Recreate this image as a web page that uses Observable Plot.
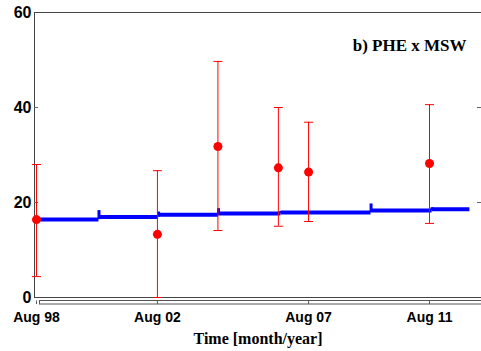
<!DOCTYPE html>
<html><head><meta charset="utf-8">
<script src="https://cdn.jsdelivr.net/npm/d3@7"></script>
<script src="https://cdn.jsdelivr.net/npm/@observablehq/plot@0.6"></script>
<style>html,body{margin:0;padding:0;background:#fff;overflow:hidden}</style>
</head><body><div id="chart"></div>
<script>
// Observations (red dots with error bars)
const obsDates  = ["1998-08-01","2002-08-01","2004-08-01","2006-08-01","2007-08-01","2011-08-01"];
const obsValues = [16.4, 13.3, 31.8, 27.3, 26.4, 28.2];
const obsLow    = [4.4, 0.0, 14.1, 15.0, 16.0, 15.6];
const obsHigh   = [28.0, 26.7, 49.7, 40.0, 36.9, 40.6];

// Model step line (blue)
const segStart = ["1998-08-01","2000-08-25","2002-08-15","2004-08-08","2006-09-01","2009-08-25","2011-09-01"];
const segEnd   = ["2000-08-25","2002-08-15","2004-08-08","2006-09-01","2009-08-25","2011-09-01","2012-12-01"];
const segLevel = [16.4, 16.95, 17.4, 17.7, 17.9, 18.3, 18.6];
const spikeTop = [null, 18.3, 18.0, 18.7, 18.1, 19.7, 18.9];

// Axis ticks
const xTickDates  = ["1998-08-01","2002-08-01","2007-08-01","2011-08-01"];
const xTickLabels = ["Aug 98","Aug 02","Aug 07","Aug 11"];
const yTicks = [0, 20, 40, 60];
const yInnerTicks = [20, 40];

const title = "b) PHE x MSW";
const xLabel = "Time [month/year]";

const W = 481, H = 351, ML = 34, MR = 0, MT = 12, MB = 54;
const D = s => new Date(s + "T00:00:00Z");

const obs = obsDates.map((d, i) => ({date: D(d), v: obsValues[i], lo: obsLow[i], hi: obsHigh[i]}));
const segs = segStart.map((d, i) => ({x1: D(d), x2: D(segEnd[i]), v: segLevel[i]}));
const spikes = segStart.map((d, i) => ({x: D(d), y1: i > 0 ? segLevel[i - 1] : null, y2: spikeTop[i]})).filter(d => d.y2 != null);
const tickMap = new Map(xTickDates.map((d, i) => [+D(d), xTickLabels[i]]));

const capSymbol = {draw(ctx, size) { const r = Math.sqrt(size / Math.PI); ctx.moveTo(-r, 0); ctx.lineTo(r, 0); }};
const xDomain = [D("1998-07-08"), D("2013-04-20")];

const axisBar = (index, scales, values, dims) => {
  const g = d3.create("svg:g");
  const y0 = dims.height - dims.marginBottom;
  g.append("rect")
    .attr("x", dims.marginLeft + 5.5).attr("y", y0 + 3.5)
    .attr("width", dims.width).attr("height", 3.5)
    .attr("fill", "none").attr("stroke", "#555");
  return g.node();
};

const chart = Plot.plot({
  width: W, height: H,
  marginLeft: ML, marginRight: MR, marginTop: MT, marginBottom: MB,
  style: {fontFamily: "'Liberation Sans', Arial, sans-serif", fontWeight: "bold", fontSize: "14px", background: "#fff", color: "#000"},
  x: {type: "utc", domain: xDomain},
  y: {domain: [0, 60]},
  marks: [
    axisBar,
    Plot.ruleY([0, 60], {stroke: "#444", strokeWidth: 1}),
    Plot.ruleX([xDomain[0]], {stroke: "#444", strokeWidth: 1}),
    Plot.tickY(yInnerTicks, {y: d => d, insetRight: W - ML - MR - 4, stroke: "#666"}),
    Plot.tickY(yInnerTicks, {y: d => d, insetLeft: W - ML - MR - 4, stroke: "#666"}),
    Plot.ruleY(segs, {x1: "x1", x2: "x2", y: "v", stroke: "#0000ff", strokeWidth: 4}),
    Plot.ruleX(spikes, {x: "x", y1: "y1", y2: "y2", stroke: "#0000ff", strokeWidth: 3}),
    Plot.ruleX(obs, {x: "date", y1: "lo", y2: "hi", stroke: "#ff0000", strokeWidth: 1}),
    Plot.dot(obs, {x: "date", y: "lo", symbol: capSymbol, r: 4.5, stroke: "#ff0000", fill: "none", strokeWidth: 1}),
    Plot.dot(obs, {x: "date", y: "hi", symbol: capSymbol, r: 4.5, stroke: "#ff0000", fill: "none", strokeWidth: 1}),
    Plot.dot(obs, {x: "date", y: "v", r: 4.5, fill: "#ff0000", stroke: "none"}),
    Plot.axisY({ticks: yTicks, tickSize: 0, tickPadding: 3, fontSize: 16, fontWeight: "bold", tickFormat: d => String(d)}),
    Plot.axisX({ticks: xTickDates.map(D), tickSize: 3.5, dy: 3.5, tickPadding: 8, stroke: "#555", fontSize: 14, fontWeight: "bold", tickFormat: d => tickMap.get(+d), label: null}),
    Plot.text([title], {text: d => d, frameAnchor: "top-right", dx: -15, dy: 38, textAnchor: "end", lineAnchor: "bottom", fontSize: 17, fontWeight: "bold", fontFamily: "'Liberation Serif', 'Times New Roman', serif"}),
    Plot.text([xLabel], {text: d => d, frameAnchor: "bottom", dy: 46, lineAnchor: "bottom", fontSize: 16, fontWeight: "bold", fontFamily: "'Liberation Serif', 'Times New Roman', serif"})
  ]
});
document.getElementById("chart").appendChild(chart);
</script>
</body></html>
